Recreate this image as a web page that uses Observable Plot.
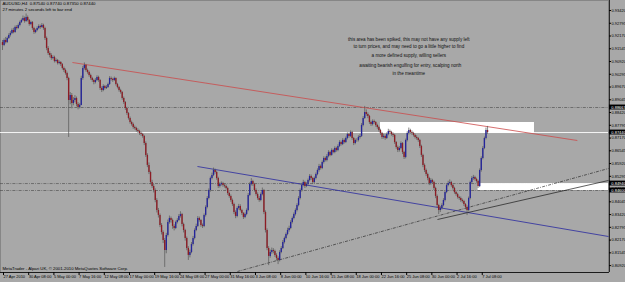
<!DOCTYPE html>
<html><head><meta charset="utf-8">
<script src="https://cdn.jsdelivr.net/npm/d3@7"></script>
<script src="https://cdn.jsdelivr.net/npm/@observablehq/plot@0.6"></script>
<style>
html,body{margin:0;padding:0;background:#a8a8a8;}
#chart svg{display:block;}
</style></head><body><div id="chart"></div>
<script>
// AUDUSD H4, bar index 0 = 27 Apr 2010 16:00
const firstOpen = .9185;
const closes = [.9171,.9195,.9185,.9205,.9220,.9229,.9244,.9234,.9259,.9254,
.9269,.9283,.9293,.9303,.9288,.9308,.9293,.9273,.9283,.9254,
.9234,.9244,.9254,.9264,.9259,.9269,.9254,.9205,.9156,.9131,
.9122,.9107,.9112,.9092,.9097,.9082,.9087,.9077,.9058,.9048,
.9033,.9009,.8901,.8926,.8886,.8901,.8911,.8881,.8867,.8877,
.9009,.9058,.9073,.9048,.9038,.9024,.9009,.8999,.8989,.8999,
.9014,.8999,.8960,.8950,.8970,.8960,.8965,.8979,.9009,.9004,
.8999,.9009,.8979,.8965,.8950,.8940,.8911,.8891,.8862,.8837,
.8813,.8793,.8783,.8769,.8764,.8754,.8749,.8739,.8734,.8725,
.8690,.8632,.8583,.8548,.8499,.8480,.8460,.8411,.8362,.8338,
.8289,.8254,.8215,.8166,.8240,.8303,.8323,.8313,.8284,.8274,
.8303,.8313,.8333,.8342,.8293,.8264,.8225,.8176,.8142,.8156,
.8195,.8225,.8264,.8284,.8323,.8313,.8289,.8284,.8338,.8377,
.8421,.8460,.8519,.8534,.8558,.8548,.8519,.8480,.8489,.8494,
.8484,.8480,.8470,.8445,.8431,.8411,.8391,.8352,.8333,.8372,
.8382,.8362,.8347,.8328,.8342,.8362,.8436,.8489,.8504,.8489,
.8460,.8440,.8421,.8411,.8440,.8460,.8352,.8264,.8176,.8137,
.8156,.8166,.8161,.8142,.8127,.8117,.8156,.8176,.8205,.8225,
.8244,.8264,.8274,.8303,.8323,.8342,.8362,.8386,.8421,.8460,
.8484,.8499,.8480,.8489,.8509,.8529,.8519,.8499,.8519,.8538,
.8558,.8578,.8568,.8597,.8617,.8607,.8627,.8646,.8632,.8656,
.8646,.8666,.8656,.8676,.8695,.8685,.8705,.8695,.8715,.8734,
.8725,.8744,.8715,.8690,.8705,.8705,.8720,.8725,.8779,.8813,
.8842,.8832,.8823,.8793,.8783,.8798,.8793,.8779,.8769,.8754,
.8739,.8720,.8725,.8715,.8734,.8749,.8744,.8734,.8730,.8695,
.8671,.8656,.8666,.8690,.8646,.8622,.8705,.8739,.8754,.8744,
.8739,.8730,.8720,.8715,.8705,.8676,.8632,.8583,.8558,.8538,
.8519,.8494,.8509,.8499,.8470,.8431,.8386,.8362,.8372,.8386,
.8411,.8450,.8484,.8494,.8499,.8484,.8470,.8450,.8440,.8426,
.8421,.8411,.8406,.8391,.8377,.8362,.8421,.8499,.8519,.8524,
.8514,.8504,.8480,.8558,.8617,.8666,.8715,.8754,.8744];
const highs = [.9195,.9203,.9210,.9212,.9228,.9238,.9252,.9255,.9266,.9268,
.9276,.9290,.9300,.9315,.9310,.9325,.9315,.9298,.9290,.9288,
.9260,.9250,.9262,.9272,.9270,.9278,.9275,.9260,.9212,.9165,
.9140,.9130,.9120,.9118,.9105,.9102,.9095,.9092,.9082,.9065,
.9055,.9040,.9015,.8940,.8935,.8915,.8925,.8918,.8890,.8885,
.9020,.9068,.9085,.9078,.9055,.9045,.9030,.9015,.9005,.9008,
.9022,.9020,.9004,.8968,.8978,.8975,.8974,.8986,.9018,.9016,
.9010,.9016,.9012,.8985,.8970,.8956,.8945,.8918,.8896,.8868,
.8842,.8820,.8800,.8790,.8776,.8770,.8762,.8755,.8746,.8740,
.8730,.8698,.8640,.8595,.8555,.8510,.8490,.8468,.8420,.8372,
.8345,.8298,.8262,.8225,.8250,.8315,.8335,.8330,.8320,.8292,
.8310,.8322,.8342,.8356,.8348,.8300,.8270,.8232,.8185,.8168,
.8205,.8235,.8272,.8295,.8332,.8330,.8318,.8296,.8345,.8385,
.8430,.8468,.8526,.8545,.8570,.8565,.8555,.8525,.8498,.8502,
.8500,.8492,.8488,.8476,.8452,.8438,.8418,.8398,.8360,.8380,
.8392,.8390,.8368,.8352,.8350,.8370,.8445,.8498,.8518,.8510,
.8495,.8468,.8448,.8430,.8448,.8472,.8465,.8360,.8272,.8185,
.8168,.8178,.8175,.8168,.8150,.8135,.8165,.8185,.8215,.8232,
.8252,.8275,.8285,.8312,.8330,.8350,.8370,.8395,.8430,.8468,
.8495,.8510,.8505,.8498,.8516,.8538,.8536,.8524,.8526,.8546,
.8566,.8588,.8585,.8605,.8625,.8624,.8636,.8655,.8652,.8664,
.8662,.8674,.8672,.8684,.8704,.8702,.8714,.8712,.8722,.8742,
.8740,.8752,.8750,.8720,.8712,.8714,.8728,.8735,.8788,.8822,
.8872,.8855,.8840,.8828,.8800,.8806,.8805,.8798,.8785,.8775,
.8760,.8745,.8735,.8732,.8742,.8760,.8756,.8750,.8742,.8735,
.8700,.8678,.8675,.8698,.8695,.8652,.8712,.8748,.8766,.8760,
.8752,.8745,.8736,.8728,.8720,.8710,.8682,.8638,.8590,.8565,
.8545,.8525,.8518,.8515,.8505,.8476,.8438,.8392,.8382,.8395,
.8420,.8458,.8492,.8505,.8512,.8505,.8490,.8476,.8456,.8446,
.8432,.8428,.8418,.8412,.8396,.8384,.8428,.8506,.8528,.8534,
.8530,.8520,.8510,.8566,.8625,.8675,.8722,.8766,.8774];
const lows = [.9146,.9165,.9178,.9180,.9200,.9212,.9224,.9228,.9230,.9246,
.9250,.9262,.9278,.9288,.9280,.9284,.9286,.9265,.9268,.9245,
.9225,.9228,.9238,.9248,.9250,.9255,.9245,.9195,.9145,.9122,
.9110,.9098,.9100,.9085,.9086,.9075,.9076,.9068,.9050,.9038,
.9025,.8998,.8720,.8880,.8860,.8875,.8890,.8870,.8855,.8860,
.8875,.9000,.9050,.9040,.9030,.9015,.9000,.8990,.8978,.8982,
.8994,.8990,.8950,.8940,.8944,.8952,.8955,.8960,.8975,.8996,
.8990,.8994,.8972,.8958,.8942,.8932,.8902,.8882,.8852,.8828,
.8805,.8785,.8775,.8760,.8756,.8746,.8740,.8730,.8725,.8716,
.8680,.8622,.8572,.8538,.8488,.8470,.8448,.8400,.8350,.8325,
.8278,.8242,.8200,.8083,.8150,.8232,.8295,.8300,.8270,.8262,
.8268,.8296,.8308,.8325,.8282,.8252,.8212,.8165,.8117,.8130,
.8150,.8188,.8218,.8258,.8278,.8305,.8280,.8274,.8278,.8330,
.8370,.8414,.8452,.8512,.8528,.8540,.8510,.8470,.8472,.8482,
.8476,.8472,.8462,.8436,.8422,.8402,.8382,.8342,.8322,.8326,
.8364,.8355,.8338,.8318,.8322,.8336,.8356,.8430,.8482,.8480,
.8452,.8432,.8412,.8402,.8405,.8434,.8342,.8252,.8165,.8092,
.8128,.8148,.8150,.8132,.8115,.8097,.8110,.8150,.8170,.8198,
.8218,.8238,.8256,.8268,.8296,.8316,.8335,.8355,.8380,.8414,
.8452,.8478,.8470,.8474,.8482,.8502,.8510,.8490,.8494,.8512,
.8532,.8550,.8560,.8562,.8590,.8600,.8600,.8620,.8625,.8628,
.8640,.8640,.8648,.8650,.8670,.8678,.8680,.8688,.8690,.8708,
.8716,.8720,.8706,.8680,.8684,.8696,.8698,.8712,.8720,.8772,
.8808,.8824,.8812,.8784,.8774,.8776,.8785,.8770,.8760,.8746,
.8730,.8710,.8712,.8706,.8710,.8728,.8736,.8726,.8720,.8686,
.8662,.8646,.8648,.8660,.8636,.8612,.8615,.8698,.8732,.8736,
.8730,.8722,.8712,.8706,.8696,.8666,.8622,.8572,.8548,.8528,
.8508,.8484,.8486,.8490,.8460,.8420,.8375,.8342,.8352,.8364,
.8380,.8404,.8444,.8478,.8488,.8476,.8462,.8442,.8432,.8418,
.8412,.8402,.8398,.8382,.8366,.8337,.8355,.8414,.8492,.8510,
.8506,.8496,.8470,.8474,.8550,.8610,.8660,.8708,.8735];

const priceTicks = [.93420,.92795,.92170,.91545,.90920,.90295,.89670,.89045,.88420,.87795,
.87170,.86545,.85920,.85295,.84670,.84045,.83420,.82795,.82170,.81545,.80920];
const timeTicks = [0,16,32,48,64,80,96,112,128,144,160,176,192,208,224,240,256,272,288,304];
const timeLabels = ["27 Apr 2010","30 Apr 08:00","5 May 00:00","7 May 16:00","12 May 08:00","17 May 00:00",
"19 May 16:00","24 May 08:00","27 May 00:00","31 May 16:00","3 Jun 08:00","8 Jun 00:00","10 Jun 16:00",
"15 Jun 08:00","18 Jun 00:00","22 Jun 16:00","25 Jun 08:00","30 Jun 00:00","2 Jul 16:00","7 Jul 08:00"];

// horizontal levels
const dashLevels = [0.88667, 0.84940, 0.84600];
const bidLevel = 0.8744;
const markedLevels = [0.88667, 0.87440, 0.84940, 0.84600];
// zones (bar index from/to, price from/to)
const zoneX1 = [240, 302], zoneX2 = [337.8, 384.8];
const zoneY1 = [0.87393, 0.84600], zoneY2 = [0.87932, 0.84940];
// trend lines (bar index, price)
const redLine = [[44.4, 0.90872], [365, 0.8705]];
const blueLine = [[123.8, 0.85776], [384.8, 0.82346]];
const dotLine = [[149.2, 0.80631], [384.8, 0.85678]];
const blackLine = [[276.2, 0.83179], [384.8, 0.85092]];

const commentLines = ["this area has been spiked, this may not have any supply left",
"to turn prices, and may need to go a little higher to find",
"a more defined supply, willing sellers",
"awaiting bearish engulfing for entry, scalping north",
"in the meantime"];
const commentX = [258, 258, 258, 259, 258];
const commentY = [0.91999, 0.91631, 0.91215, 0.90725, 0.90333];

const header1 = "AUDUSD,H4  0.87540 0.87740 0.87350 0.87440";
const header2 = "27 minutes 2 seconds left to bar end";
const footer = "MetaTrader - Alpari UK, \u00a9 2001-2010 MetaQuotes Software Corp.";

const rows = closes.map((c, i) => ({i, o: i ? closes[i-1] : firstOpen, c, h: highs[i], l: lows[i]}));
const bull = rows.filter(d => d.c >= d.o), bear = rows.filter(d => d.c < d.o);
const seg = (pts) => [{x1: pts[0][0], y1: pts[0][1], x2: pts[1][0], y2: pts[1][1]}];
const zones = zoneX1.map((x, k) => ({x1: x, x2: zoneX2[k], y1: zoneY1[k], y2: zoneY2[k]}));
const comments = commentLines.map((t, k) => ({t, x: commentX[k], y: commentY[k]}));
const fmt = d3.format(".5f");

const chart = Plot.plot({
  width: 625, height: 282,
  marginLeft: 0, marginRight: 17, marginTop: 0, marginBottom: 10,
  style: {background: "#a8a8a8", fontFamily: "'Liberation Sans', Arial, sans-serif", fontSize: "4px", color: "#000", overflow: "visible"},
  x: {type: "linear", domain: [-1.27, 384.8], axis: null},
  y: {domain: [0.80582, 0.9391], axis: null},
  marks: [
    Plot.frame({stroke: "#707070", strokeWidth: 0.6}),
    Plot.ruleY(dashLevels, {stroke: "#444", strokeWidth: 0.6, strokeDasharray: "3,1.2,0.8,1.2"}),
    Plot.rect(zones, {x1: "x1", x2: "x2", y1: "y1", y2: "y2", fill: "#fff"}),
    Plot.ruleY([bidLevel], {stroke: "#fff", strokeWidth: 0.9}),
    Plot.link(seg(redLine), {x1: "x1", y1: "y1", x2: "x2", y2: "y2", stroke: "#cc4a4a", strokeWidth: 0.8}),
    Plot.link(seg(blueLine), {x1: "x1", y1: "y1", x2: "x2", y2: "y2", stroke: "#2a2aa0", strokeWidth: 0.8}),
    Plot.link(seg(dotLine), {x1: "x1", y1: "y1", x2: "x2", y2: "y2", stroke: "#1a1a1a", strokeWidth: 0.6, strokeDasharray: "3,1.2,0.8,1.2"}),
    Plot.link(seg(blackLine), {x1: "x1", y1: "y1", x2: "x2", y2: "y2", stroke: "#1a1a1a", strokeWidth: 0.7}),
    Plot.ruleX(rows, {x: "i", y1: "l", y2: "h", stroke: "#555", strokeWidth: 0.7}),
    Plot.ruleX(bull, {x: "i", y1: "o", y2: "c", stroke: "#24249a", strokeWidth: 1.35}),
    Plot.ruleX(bear, {x: "i", y1: "o", y2: "c", stroke: "#8c1c24", strokeWidth: 1.35}),
    Plot.text(comments, {x: "x", y: "y", text: "t", fontSize: 4.6, fill: "#111"}),
    Plot.text([header1], {frameAnchor: "top-left", dx: 2, dy: 1.5, fontSize: 4.3, textAnchor: "start", lineAnchor: "top"}),
    Plot.text([header2], {frameAnchor: "top-left", dx: 2, dy: 7, fontSize: 4.3, textAnchor: "start", lineAnchor: "top"}),
    Plot.text([footer], {frameAnchor: "bottom-left", dx: 2, dy: -3, fontSize: 4.3, textAnchor: "start", lineAnchor: "bottom"}),
    Plot.axisY({anchor: "right", ticks: priceTicks, tickFormat: fmt, tickSize: 2, tickPadding: 1, fontSize: 4, textAnchor: "start"}),
    Plot.axisX({anchor: "bottom", ticks: timeTicks, tickFormat: v => timeLabels[timeTicks.indexOf(v)], tickSize: 3, tickPadding: 0, fontSize: 4, textAnchor: "start", dx: 1}),
    Plot.rect(markedLevels, {x1: 385.4, x2: 396, y1: d => d - 0.0012, y2: d => d + 0.0012, fill: "#000"}),
    Plot.text(markedLevels, {x: 386.6, y: d => d, text: fmt, fill: "#fff", fontSize: 4, textAnchor: "start"}),
    Plot.ruleX([385.4], {stroke: "#000", strokeWidth: 0.8}),
    Plot.ruleY([0.80582], {x1: -1.27, x2: 385.4, stroke: "#000", strokeWidth: 0.8})
  ]
});
document.getElementById("chart").append(chart);
</script></body></html>
